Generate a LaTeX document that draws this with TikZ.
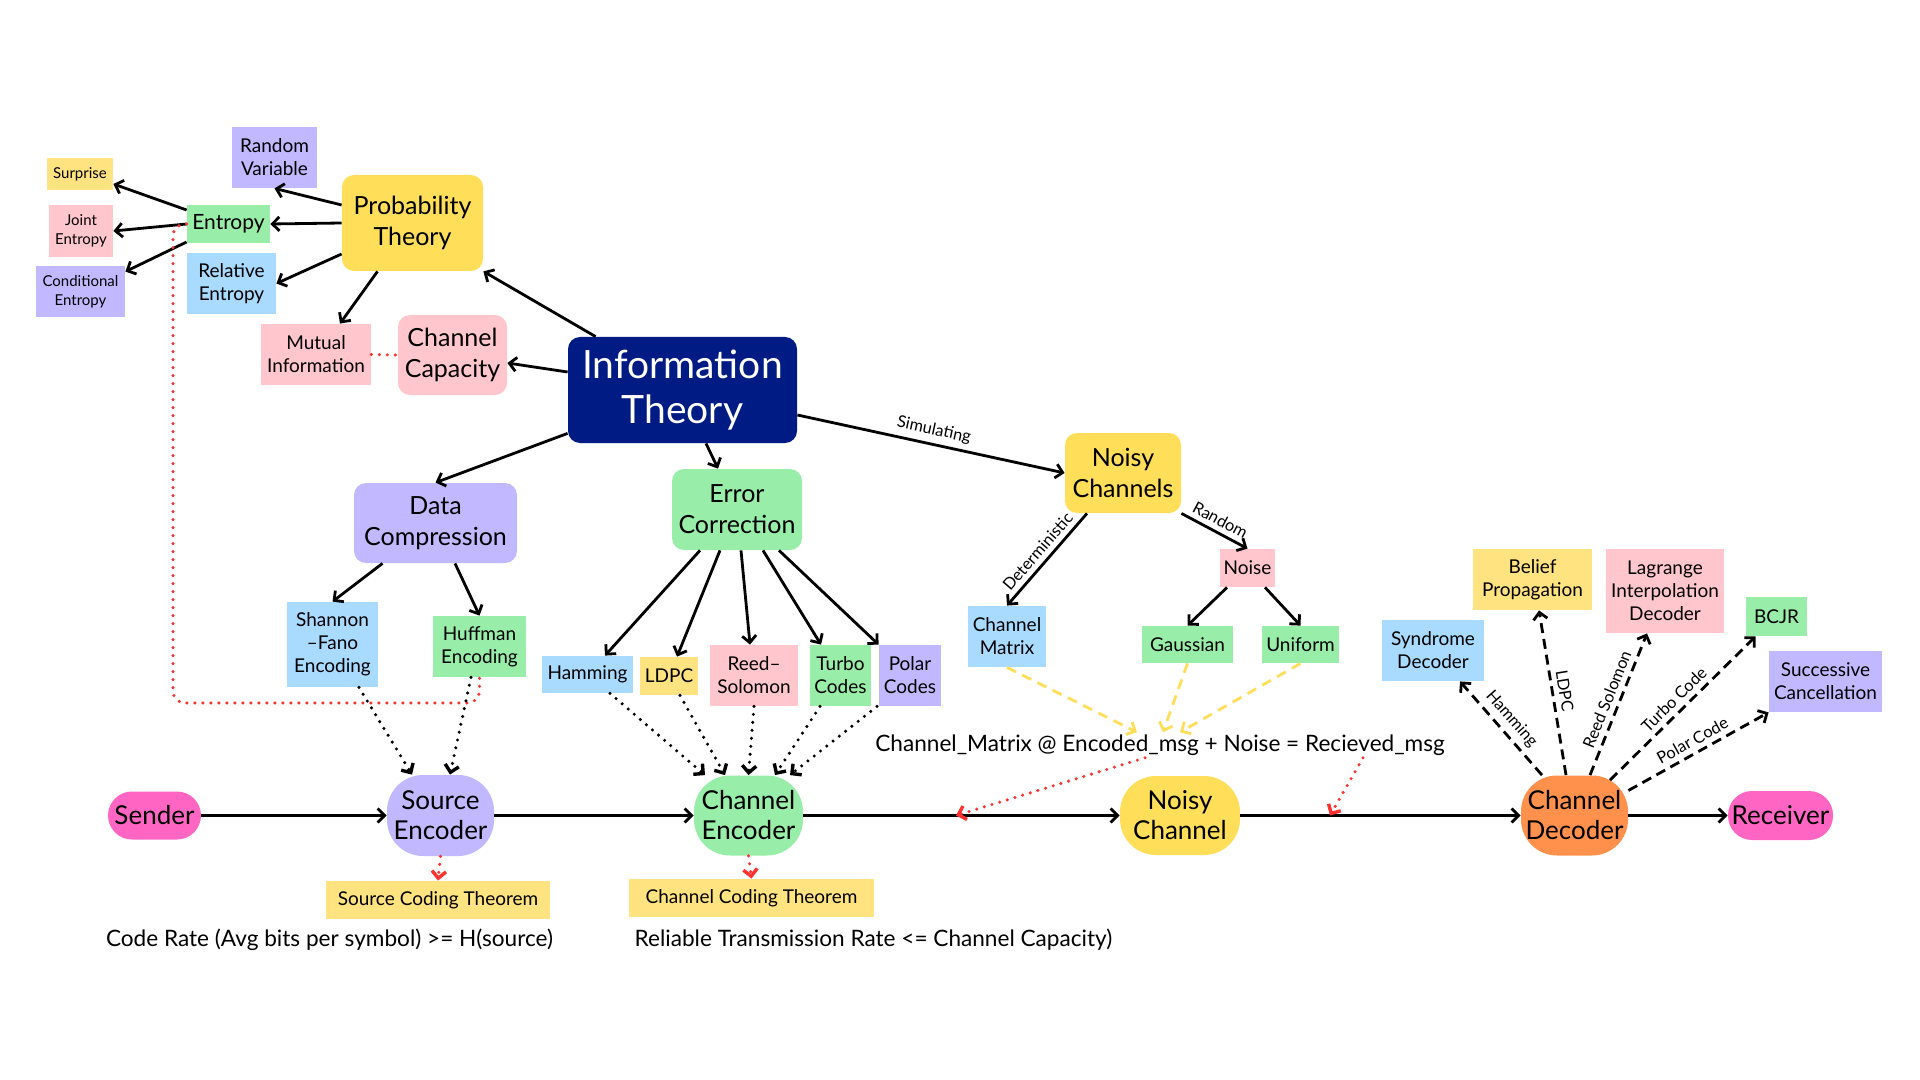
\documentclass[tikz,border=0pt]{standalone}
\usepackage{fontspec}
\setmainfont{Lato}
\usepackage{tikz}
\usetikzlibrary{arrows.meta}
\definecolor{yel}{HTML}{FFDE59}
\definecolor{yelL}{HTML}{FFE380}
\definecolor{pur}{HTML}{C2B8FF}
\definecolor{grn}{HTML}{98EDA8}
\definecolor{blu}{HTML}{A8DBFF}
\definecolor{pnk}{HTML}{FFC6CD}
\definecolor{navy}{HTML}{001C84}
\definecolor{hotpk}{HTML}{FF66C4}
\definecolor{orng}{HTML}{FF914D}
\definecolor{redd}{HTML}{FF3131}
\tikzset{
  bx/.style={inner sep=0pt, align=center},
  rbx/.style={bx, rounded corners=6pt},
  pill/.style={bx, rounded corners=12pt},
  blob/.style={bx, rounded corners=18pt},
  sz/.style 2 args={minimum width=#1, minimum height=#2},
  fhuge/.style={font=\fontsize{19.5}{22.5}\selectfont},
  fbig/.style={font=\fontsize{12.5}{15.5}\selectfont},
  fbot/.style={font=\fontsize{13}{15}\selectfont},
  fsml/.style={font=\fontsize{9.5}{11.5}\selectfont},
  ftny/.style={font=\fontsize{7.5}{9.5}\selectfont},
  hand/.style={inner sep=1pt, font=\fontsize{11.3}{13}\selectfont},
  lbl/.style={font=\fontsize{8.2}{9.5}\selectfont, sloped, above, inner sep=2.5pt},
  arw/.style={-{Straight Barb[length=3.5pt,width=7pt]}, line width=1.4pt},
  dotarw/.style={arw, line width=1.7pt, dash pattern=on 0pt off 4pt, line cap=round},
  reddot/.style={redd, line width=1.7pt, dash pattern=on 0pt off 4pt, line cap=round},
  redarw/.style={reddot, -{Straight Barb[length=3.5pt,width=7pt]}},
  yeldash/.style={yel, -{Straight Barb[length=3.5pt,width=7pt]}, line width=1.4pt, dash pattern=on 5pt off 3.5pt},
  dasharw/.style={arw, dash pattern=on 5pt off 3pt},
}

\begin{document}
\begin{tikzpicture}[x=0.5pt,y=-0.5pt]
  \useasboundingbox (0,0) rectangle (1920,1080);
  \node[bx,fill=yelL,ftny,sz={33pt}{16pt}] (surprise) at (80,174) {Surprise};
  \node[bx,fill=pur,fsml,sz={42.5pt}{30.5pt}] (randvar) at (274.5,157.5) {Random\\Variable};
  \node[rbx,fill=yel,fbig,sz={70.5pt}{48pt}] (prob) at (412.5,223) {Probability\\Theory};
  \node[bx,fill=grn,font=\fontsize{10.5}{12}\selectfont,sz={41.5pt}{19pt}] (entropy) at (228.5,224) {Entropy};
  \node[bx,fill=pnk,ftny,sz={32pt}{26pt}] (joint) at (81,231) {Joint\\Entropy};
  \node[bx,fill=pur,ftny,sz={44.5pt}{25.5pt}] (condent) at (80.5,291.5) {Conditional\\Entropy};
  \node[bx,fill=blu,fsml,sz={44.5pt}{30.5pt}] (relent) at (231.5,283.5) {Relative\\Entropy};
  \node[bx,fill=pnk,fsml,sz={55pt}{30.5pt}] (mutual) at (316,354.5) {Mutual\\Information};
  \node[rbx,fill=pnk,fbig,sz={54.5pt}{40pt}] (capacity) at (452.5,355) {Channel\\Capacity};
  \node[rbx,fill=navy,text=white,fhuge,sz={114.5pt}{53pt}] (info) at (682.5,390) {Information\\Theory};
  \node[rbx,fill=pur,fbig,sz={81.5pt}{40pt}] (dc) at (435.5,523) {Data\\Compression};
  \node[rbx,fill=grn,fbig,sz={65pt}{40.5pt}] (error) at (737,509.5) {Error\\Correction};
  \node[bx,fill=blu,fsml,sz={45.5pt}{42.5pt}] (shannon) at (332.5,644.5) {Shannon\\–Fano\\Encoding};
  \node[bx,fill=grn,fsml,sz={46.5pt}{30.5pt}] (huffman) at (479.5,646.5) {Huffman\\Encoding};
  \node[bx,fill=blu,fsml,sz={45.5pt}{18.5pt}] (hamming) at (587.5,674.5) {Hamming};
  \node[bx,fill=yelL,fsml,sz={29pt}{19pt}] (ldpc) at (669,676) {LDPC};
  \node[bx,fill=pnk,fsml,sz={44pt}{30.5pt}] (reedsol) at (754,675.5) {Reed–\\Solomon};
  \node[bx,fill=grn,fsml,sz={30.5pt}{30.5pt}] (turbo) at (840.5,675.5) {Turbo\\Codes};
  \node[bx,fill=pur,fsml,sz={31pt}{30.5pt}] (polar) at (910,675.5) {Polar\\Codes};
  \node[rbx,fill=yel,fbig,sz={58pt}{40pt}] (noisy) at (1123,473) {Noisy\\Channels};
  \node[bx,fill=blu,fsml,sz={39pt}{30.5pt}] (chmatrix) at (1007,636.5) {Channel\\Matrix};
  \node[bx,fill=pnk,fsml,sz={27.5pt}{19pt}] (noise) at (1247.5,568) {Noise};
  \node[bx,fill=grn,fsml,sz={45.5pt}{18.5pt}] (gaussian) at (1187.5,644.5) {Gaussian};
  \node[bx,fill=grn,fsml,sz={38.5pt}{18.5pt}] (uniform) at (1300.5,644.5) {Uniform};
  \node[hand] (eqn) at (1160,745) {Channel\_Matrix @ Encoded\_msg + Noise = Recieved\_msg};
  \node[bx,fill=blu,fsml,sz={51pt}{30.5pt}] (syndrome) at (1433,650.5) {Syndrome\\Decoder};
  \node[bx,fill=yelL,fsml,sz={59.5pt}{30.5pt}] (belief) at (1532.5,579.5) {Belief\\Propagation};
  \node[bx,fill=pnk,fsml,sz={59pt}{42pt}] (lagrange) at (1665,591) {Lagrange\\Interpolation\\Decoder};
  \node[bx,fill=grn,fsml,sz={30.5pt}{19.5pt}] (bcjr) at (1776.5,616.5) {BCJR};
  \node[bx,fill=pur,fsml,sz={56.5pt}{30.5pt}] (successive) at (1825.5,681.5) {Successive\\Cancellation};
  \node[pill,fill=hotpk,fbot,sz={46.5pt}{24pt}] (sender) at (154.5,815.5) {Sender};
  \node[blob,fill=pur,fbot,sz={53.5pt}{40.5pt}] (srcenc) at (440.5,815.5) {Source\\Encoder};
  \node[blob,fill=grn,fbot,sz={54.5pt}{40pt}] (chenc) at (748.5,815.5) {Channel\\Encoder};
  \node[blob,fill=yel,fbot,sz={60pt}{39.5pt}] (noisych) at (1180,815.5) {Noisy\\Channel};
  \node[blob,fill=orng,fbot,sz={53.5pt}{40pt}] (decoder) at (1574.5,815.5) {Channel\\Decoder};
  \node[pill,fill=hotpk,fbot,sz={52.5pt}{24.5pt}] (receiver) at (1780.5,815.5) {Receiver};
  \node[bx,fill=yelL,fsml,sz={112pt}{19pt}] (srcthm) at (438,900) {Source Coding Theorem};
  \node[bx,fill=yelL,fsml,sz={122.5pt}{19pt}] (chthm) at (751.5,898) {Channel Coding Theorem};
  \node[hand] (coderate) at (329.5,940) {Code Rate (Avg bits per symbol) >= H(source)};
  \node[hand] (reliable) at (873.5,940) {Reliable Transmission Rate <= Channel Capacity)};
  \coordinate (entbend) at (173,703);
  \coordinate (hitA) at (956,815.5);
  \coordinate (hitB) at (1330,815.5);

  \draw[arw] ([yshift=9pt]prob.west) -- (randvar.south);
  \draw[arw] (prob.west) -- (entropy.east);
  \draw[arw] ([yshift=-15.5pt]prob.west) -- (relent.east);
  \draw[arw] ([xshift=-17.5pt]prob.south) -- ([xshift=12pt]mutual.north);
  \draw[arw] ([yshift=7pt]entropy.west) -- ([yshift=-5pt]surprise.east);
  \draw[arw] (entropy.west) -- (joint.east);
  \draw[arw] ([yshift=-9pt]entropy.west) -- ([yshift=-3pt]condent.north east);
  \draw[arw] ([xshift=14pt]info.north west) -- (prob.south east);
  \draw[arw] ([yshift=9pt]info.west) -- ([yshift=-4pt]capacity.east);
  \draw[reddot] (mutual.east) -- (capacity.west);
  \draw[reddot, rounded corners=6pt] (entropy.west) -| (entbend) -| (huffman.south);

  \draw[arw] ([yshift=5pt]info.south west) -- (dc.north);
  \draw[arw] ([xshift=11.75pt]info.south) -- ([xshift=-9.5pt]error.north);
  \draw[arw] ([yshift=-12.5pt]info.east) -- node[lbl] {Simulating} (noisy.west);

  \draw[arw] ([xshift=-26.5pt]dc.south) -- (shannon.north);
  \draw[arw] ([xshift=9.75pt]dc.south) -- (huffman.north);
  \draw[dotarw] ([xshift=13.25pt]shannon.south) -- ([xshift=-14.25pt]srcenc.north);
  \draw[dotarw] ([xshift=-4.25pt]huffman.south) -- ([xshift=4.75pt]srcenc.north);

  \draw[arw] ([xshift=-18.5pt]error.south) -- ([xshift=8.75pt]hamming.north);
  \draw[arw] ([xshift=-8.5pt]error.south) -- ([xshift=4pt]ldpc.north);
  \draw[arw] ([xshift=2pt]error.south) -- ([xshift=-2pt]reedsol.north);
  \draw[arw] ([xshift=13pt]error.south) -- ([xshift=-9.75pt]turbo.north);
  \draw[arw] ([xshift=21pt]error.south) -- (polar.north west);
  \draw[dotarw] ([xshift=11.25pt]hamming.south) -- ([xshift=-21.75pt]chenc.north);
  \draw[dotarw] ([xshift=5.5pt]ldpc.south) -- ([xshift=-11.75pt]chenc.north);
  \draw[dotarw] (reedsol.south) -- (chenc.north);
  \draw[dotarw] ([xshift=-10.25pt]turbo.south) -- ([xshift=13.25pt]chenc.north);
  \draw[dotarw] ([xshift=-16.5pt]polar.south) -- ([xshift=20.75pt]chenc.north);

  \draw[arw] ([xshift=-18pt]noisy.south) -- node[lbl] {Deterministic} (chmatrix.north);
  \draw[arw] (noisy.south east) -- node[lbl] {Random} (noise.north);
  \draw[arw] ([xshift=-10.25pt]noise.south) -- (gaussian.north);
  \draw[arw] ([xshift=8.75pt]noise.south) -- (uniform.north);
  \draw[yeldash] (chmatrix.south) -- ([xshift=-11.5pt]eqn.north);
  \draw[yeldash] (gaussian.south) -- ([xshift=1.5pt]eqn.north);
  \draw[yeldash] (uniform.south) -- ([xshift=10pt]eqn.north);

  \draw[arw] (sender.east) -- (srcenc.west);
  \draw[arw] (srcenc.east) -- (chenc.west);
  \draw[arw] (chenc.east) -- (noisych.west);
  \draw[arw] (noisych.east) -- (decoder.west);
  \draw[arw] (decoder.east) -- (receiver.west);
  \draw[redarw] (srcenc.south) -- (srcthm.north);
  \draw[redarw] (chenc.south) -- (chthm.north);
  \draw[redarw] ([xshift=-7.5pt]eqn.south) -- (hitA);
  \draw[redarw] ([xshift=101.5pt]eqn.south) -- (hitB);

  \draw[dasharw] ([xshift=-16.25pt]decoder.north) -- node[lbl] {Hamming} ([xshift=13.5pt]syndrome.south);
  \draw[dasharw] ([xshift=-4.25pt]decoder.north) -- node[lbl] {LDPC} ([xshift=3.25pt]belief.south);
  \draw[dasharw] ([xshift=7.75pt]decoder.north) -- node[lbl] {Reed Solomon} ([xshift=-9pt]lagrange.south);
  \draw[dasharw] ([xshift=17.75pt,yshift=-2.5pt]decoder.north) -- node[lbl] {Turbo Code} ([xshift=5pt]bcjr.south west);
  \draw[dasharw] ([yshift=12.5pt]decoder.east) -- node[lbl] {Polar Code} (successive.south west);
\end{tikzpicture}
\end{document}
